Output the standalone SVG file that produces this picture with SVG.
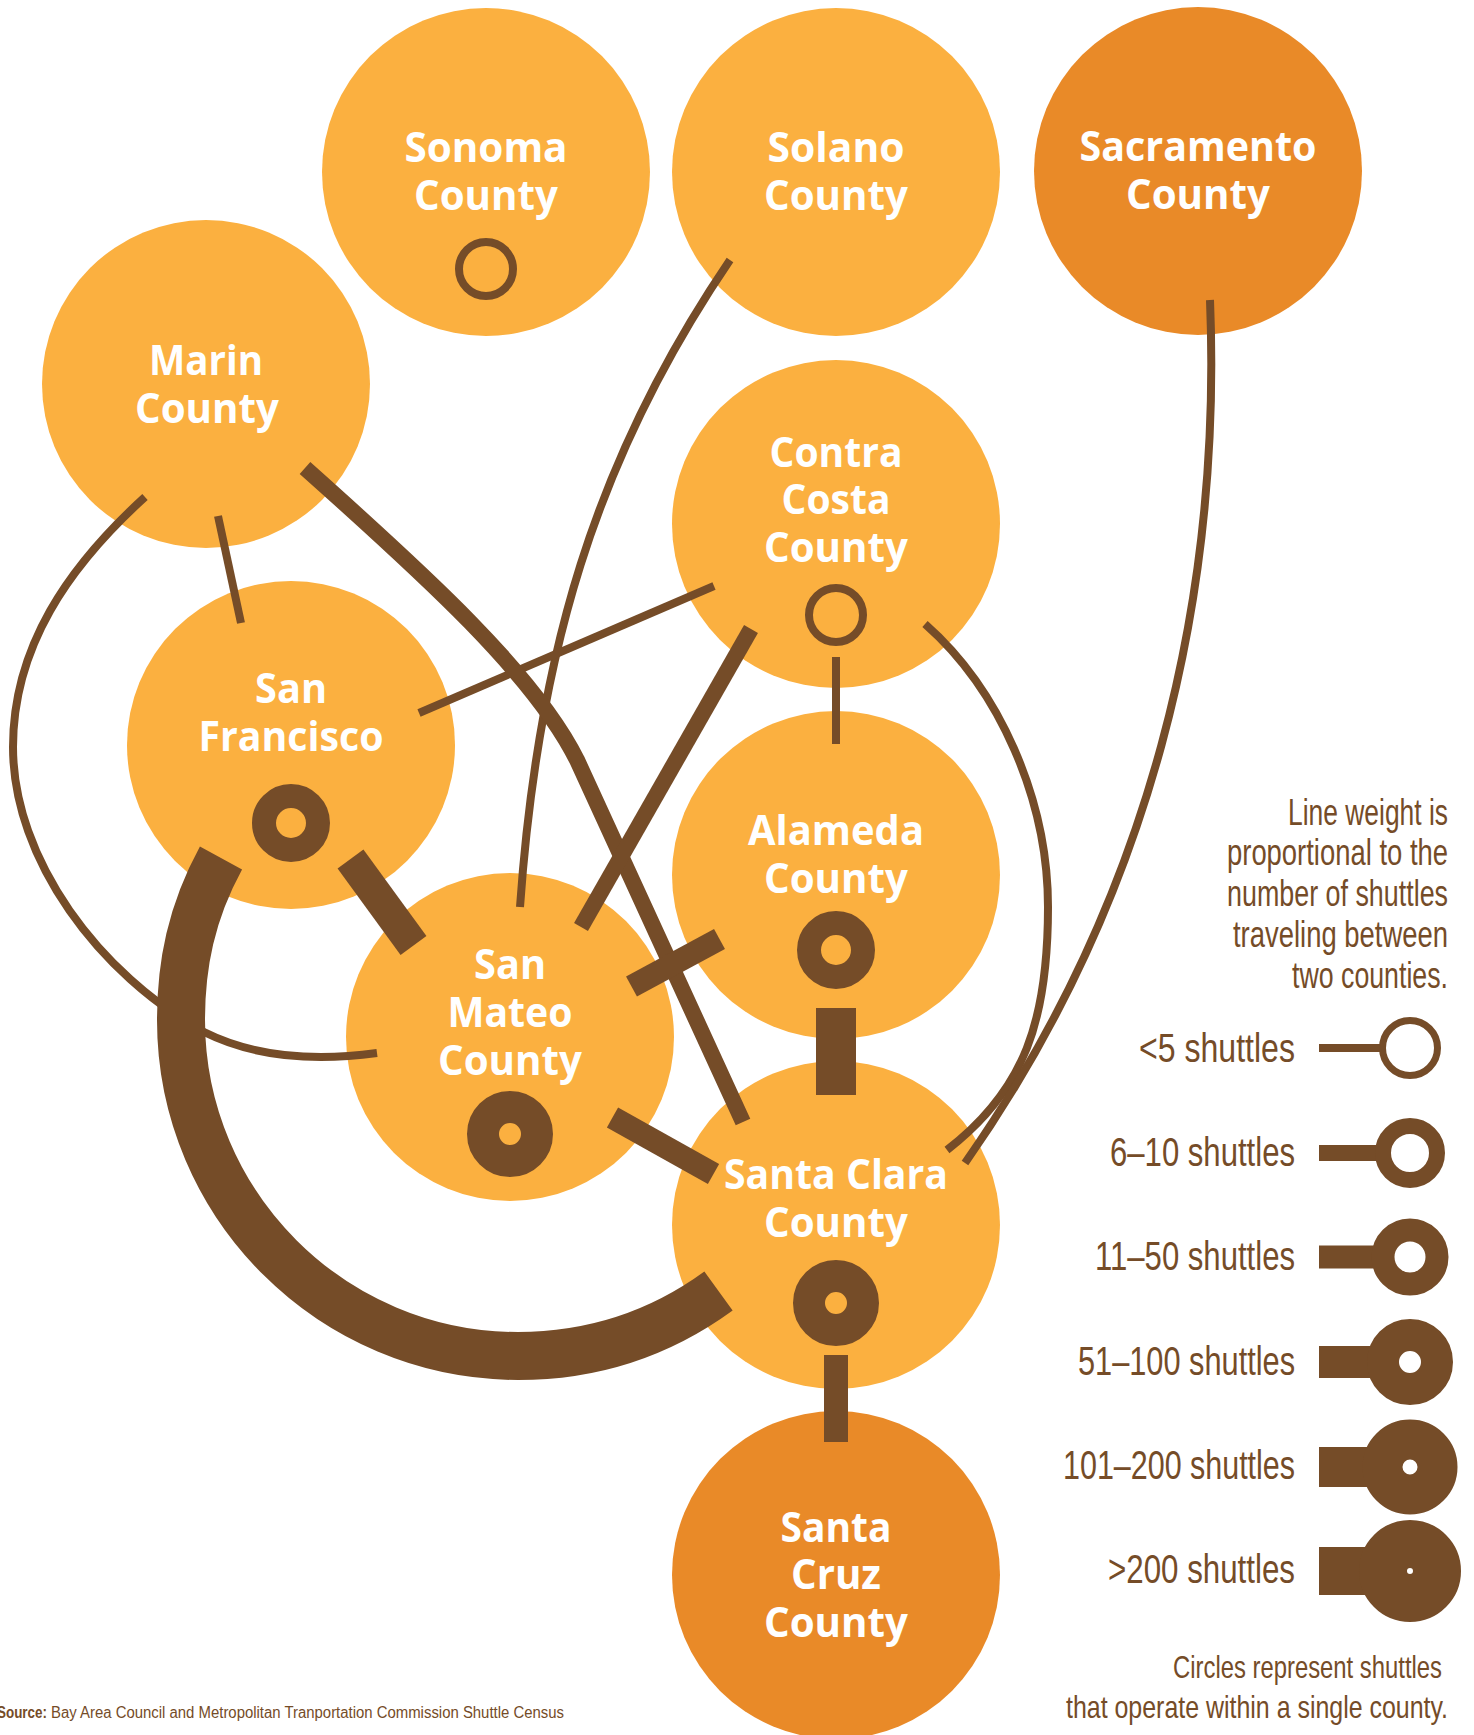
<svg xmlns="http://www.w3.org/2000/svg" width="1474" height="1735" viewBox="0 0 1474 1735">
<style>
.n{fill:#FBB040}
.d{fill:#E98A28}
.lbl{font-family:"Open Sans","Liberation Sans",sans-serif;font-weight:700;font-size:42px;fill:#fff;text-anchor:middle}
.c{fill:none;stroke:#754C28;stroke-linecap:butt}
.ring{fill:none;stroke:#754C28}
.lg{font-family:"Liberation Sans",sans-serif;fill:#754C28}
.lt{font-size:40px;text-anchor:end}
.nt{font-size:36px;text-anchor:end}
.ct{font-size:32px;text-anchor:end}
.src{font-size:16px}
</style>
<rect width="1474" height="1735" fill="#fff"/>
<g id="sonoma">
<circle class="n" cx="486" cy="172" r="164"/>
<text class="lbl" x="486" y="162" textLength="163" lengthAdjust="spacingAndGlyphs">Sonoma</text>
<text class="lbl" x="486" y="210" textLength="144" lengthAdjust="spacingAndGlyphs">County</text>
<circle class="ring" cx="486" cy="269" r="27" stroke-width="8"/>
</g>
<g id="solano">
<circle class="n" cx="836" cy="172" r="164"/>
<text class="lbl" x="836" y="162" textLength="137" lengthAdjust="spacingAndGlyphs">Solano</text>
<text class="lbl" x="836" y="210" textLength="144" lengthAdjust="spacingAndGlyphs">County</text>
</g>
<g id="sacramento">
<circle class="d" cx="1198" cy="171" r="164"/>
<text class="lbl" x="1198" y="161" textLength="237" lengthAdjust="spacingAndGlyphs">Sacramento</text>
<text class="lbl" x="1198" y="209" textLength="144" lengthAdjust="spacingAndGlyphs">County</text>
</g>
<g id="marin">
<circle class="n" cx="206" cy="384" r="164"/>
<text class="lbl" x="206" y="375" textLength="114" lengthAdjust="spacingAndGlyphs">Marin</text>
<text class="lbl" x="207" y="423" textLength="144" lengthAdjust="spacingAndGlyphs">County</text>
</g>
<g id="contra-costa">
<circle class="n" cx="836" cy="524" r="164"/>
<text class="lbl" x="836" y="467" textLength="133" lengthAdjust="spacingAndGlyphs">Contra</text>
<text class="lbl" x="836" y="514" textLength="109" lengthAdjust="spacingAndGlyphs">Costa</text>
<text class="lbl" x="836" y="562" textLength="144" lengthAdjust="spacingAndGlyphs">County</text>
<circle class="ring" cx="836" cy="615" r="27" stroke-width="8"/>
</g>
<g id="san-francisco">
<circle class="n" cx="291" cy="745" r="164"/>
<text class="lbl" x="291" y="703" textLength="72" lengthAdjust="spacingAndGlyphs">San</text>
<text class="lbl" x="291" y="751" textLength="185" lengthAdjust="spacingAndGlyphs">Francisco</text>
<circle class="ring" cx="291" cy="823" r="27" stroke-width="24"/>
</g>
<g id="alameda">
<circle class="n" cx="836" cy="875" r="164"/>
<text class="lbl" x="836" y="845" textLength="176" lengthAdjust="spacingAndGlyphs">Alameda</text>
<text class="lbl" x="836" y="893" textLength="144" lengthAdjust="spacingAndGlyphs">County</text>
<circle class="ring" cx="836" cy="950" r="27" stroke-width="24"/>
</g>
<g id="san-mateo">
<circle class="n" cx="510" cy="1037" r="164"/>
<text class="lbl" x="510" y="979" textLength="72" lengthAdjust="spacingAndGlyphs">San</text>
<text class="lbl" x="510" y="1027" textLength="125" lengthAdjust="spacingAndGlyphs">Mateo</text>
<text class="lbl" x="510" y="1075" textLength="144" lengthAdjust="spacingAndGlyphs">County</text>
<circle class="ring" cx="510" cy="1134" r="27" stroke-width="32"/>
</g>
<g id="santa-clara">
<circle class="n" cx="836" cy="1225" r="164"/>
<text class="lbl" x="836" y="1189" textLength="224" lengthAdjust="spacingAndGlyphs">Santa Clara</text>
<text class="lbl" x="836" y="1237" textLength="144" lengthAdjust="spacingAndGlyphs">County</text>
<circle class="ring" cx="836" cy="1303" r="27" stroke-width="32"/>
</g>
<g id="santa-cruz">
<circle class="d" cx="836" cy="1575" r="164"/>
<text class="lbl" x="836" y="1542" textLength="111" lengthAdjust="spacingAndGlyphs">Santa</text>
<text class="lbl" x="836" y="1589" textLength="90" lengthAdjust="spacingAndGlyphs">Cruz</text>
<text class="lbl" x="836" y="1637" textLength="144" lengthAdjust="spacingAndGlyphs">County</text>
</g>
<g id="connectors">
<line class="c" x1="218" y1="516" x2="241" y2="623" stroke-width="8"/>
<path class="c" d="M145,497 C68,567 13,647 13,747 C13,860 100,975 204,1032 C250,1055 310,1062 377,1053" stroke-width="8"/>
<path class="c" d="M730,260 C594,460 537.5,657 520,907" stroke-width="8"/>
<line class="c" x1="419" y1="713" x2="714" y2="586" stroke-width="8"/>
<line class="c" x1="836" y1="657" x2="836" y2="744" stroke-width="8"/>
<path class="c" d="M925,624 C1000,690 1048,800 1048,907 C1048,1020 1025,1090 947,1150" stroke-width="8"/>
<path class="c" d="M1210,300 C1222,600 1150,900 965,1163" stroke-width="8"/>
<path class="c" d="M305,468 C425,575 535,675 577,760 L743,1122" stroke-width="16"/>
<line class="c" x1="751" y1="629" x2="581" y2="927" stroke-width="16"/>
<line class="c" x1="631.5" y1="986.5" x2="719.5" y2="939" stroke-width="23"/>
<line class="c" x1="612.5" y1="1117.5" x2="713.5" y2="1174" stroke-width="23"/>
<line class="c" x1="836" y1="1355" x2="836" y2="1442" stroke-width="24"/>
<line class="c" x1="350.5" y1="859" x2="413.5" y2="945.5" stroke-width="32"/>
<line class="c" x1="836" y1="1008" x2="836" y2="1095" stroke-width="40"/>
<path class="c" d="M221,858 C191,913 181,965 181,1020 C181,1205 332,1356 518,1356 C600,1356 665,1330 718.5,1291" stroke-width="48"/>
</g>
<g id="legend">
<text class="lg nt" x="1448" y="825" textLength="160" lengthAdjust="spacingAndGlyphs">Line weight is</text>
<text class="lg nt" x="1448" y="865" textLength="221" lengthAdjust="spacingAndGlyphs">proportional to the</text>
<text class="lg nt" x="1448" y="906" textLength="221" lengthAdjust="spacingAndGlyphs">number of shuttles</text>
<text class="lg nt" x="1448" y="947" textLength="215" lengthAdjust="spacingAndGlyphs">traveling between</text>
<text class="lg nt" x="1448" y="988" textLength="156" lengthAdjust="spacingAndGlyphs">two counties.</text>
<g id="leg-1">
<text class="lg lt" x="1295" y="1062" textLength="156" lengthAdjust="spacingAndGlyphs">&lt;5 shuttles</text>
<line class="c" x1="1319" y1="1048" x2="1385" y2="1048" stroke-width="8"/>
<circle class="ring" cx="1410" cy="1048" r="27.5" stroke-width="7" fill="#fff"/>
</g>
<g id="leg-2">
<text class="lg lt" x="1295" y="1166" textLength="185" lengthAdjust="spacingAndGlyphs">6–10 shuttles</text>
<line class="c" x1="1319" y1="1153" x2="1385" y2="1153" stroke-width="16"/>
<circle class="ring" cx="1410" cy="1153" r="27" stroke-width="16" fill="#fff"/>
</g>
<g id="leg-3">
<text class="lg lt" x="1295" y="1270" textLength="200" lengthAdjust="spacingAndGlyphs">11–50 shuttles</text>
<line class="c" x1="1319" y1="1257" x2="1385" y2="1257" stroke-width="23"/>
<circle class="ring" cx="1410" cy="1257" r="27" stroke-width="23" fill="#fff"/>
</g>
<g id="leg-4">
<text class="lg lt" x="1295" y="1375" textLength="217" lengthAdjust="spacingAndGlyphs">51–100 shuttles</text>
<line class="c" x1="1319" y1="1362" x2="1385" y2="1362" stroke-width="32"/>
<circle class="ring" cx="1410" cy="1362" r="27" stroke-width="32" fill="#fff"/>
</g>
<g id="leg-5">
<text class="lg lt" x="1295" y="1479" textLength="232" lengthAdjust="spacingAndGlyphs">101–200 shuttles</text>
<line class="c" x1="1319" y1="1467" x2="1385" y2="1467" stroke-width="40"/>
<circle class="ring" cx="1410" cy="1467" r="27.5" stroke-width="40" fill="#fff"/>
</g>
<g id="leg-6">
<text class="lg lt" x="1295" y="1583" textLength="187" lengthAdjust="spacingAndGlyphs">&gt;200 shuttles</text>
<line class="c" x1="1319" y1="1571" x2="1385" y2="1571" stroke-width="48"/>
<circle class="ring" cx="1410" cy="1571" r="27" stroke-width="48" fill="#fff"/>
</g>
<text class="lg ct" x="1442" y="1678" textLength="269" lengthAdjust="spacingAndGlyphs">Circles represent shuttles</text>
<text class="lg ct" x="1448" y="1718" textLength="382" lengthAdjust="spacingAndGlyphs">that operate within a single county.</text>
</g>
<g id="source">
<text class="lg src" x="-3" y="1718" font-weight="700" textLength="50" lengthAdjust="spacingAndGlyphs">Source:</text>
<text class="lg src" x="51" y="1718" textLength="513" lengthAdjust="spacingAndGlyphs">Bay Area Council and Metropolitan Tranportation Commission Shuttle Census</text>
</g>
</svg>
